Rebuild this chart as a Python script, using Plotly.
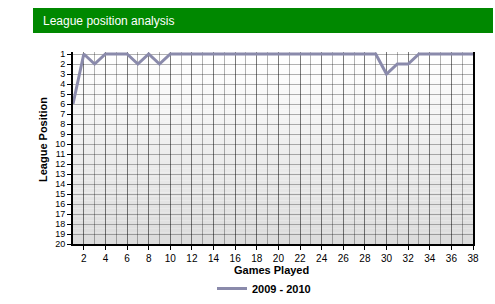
import plotly.graph_objects as go

games = list(range(1, 39))
positions = [6, 1, 2, 1, 1, 1, 2, 1, 2, 1,
             1, 1, 1, 1, 1, 1, 1, 1, 1, 1,
             1, 1, 1, 1, 1, 1, 1, 1, 1, 3,
             2, 2, 1, 1, 1, 1, 1, 1]
series_name = "2009 - 2010"
y_ticks = list(range(1, 21))
x_ticks = list(range(2, 39, 2))
x_title = "Games Played"
y_title = "League Position"
chart_title = "League position analysis"

W, H = 495, 304
ML, MR, MT, MB = 73, 22, 52, 60
FONT = "Arial, Liberation Sans, sans-serif"

fig = go.Figure()
fig.add_trace(go.Scatter(
    x=games, y=positions, mode="lines", name=series_name,
    line=dict(color="#8a8aab", width=3),
))

pw = W - ML - MR
ph = H - MT - MB
def px_x(p):
    return (p - ML) / pw
def px_y(p):
    return (H - MB - p) / ph

shapes = []
# background gradient in plot area (from the value-1 gridline down)
top = px_y(54)
n = 48
for i in range(n):
    t = i / (n - 1)
    v = int(round(255 - t * (255 - 220)))
    shapes.append(dict(type="rect", xref="paper", yref="paper",
                       x0=0, x1=1, y0=top * (1 - (i + 1) / n), y1=top * (1 - i / n),
                       fillcolor=f"rgb({v},{v},{v})", line=dict(width=0),
                       layer="below"))
# title bar
shapes.append(dict(type="rect", xref="paper", yref="paper",
                   x0=px_x(33), x1=px_x(493), y0=px_y(33), y1=px_y(8),
                   fillcolor="#008800", line=dict(width=0), layer="below"))

bold11 = dict(family=FONT, size=11, color="black", weight="bold")

fig.update_layout(
    width=W, height=H,
    margin=dict(l=ML, r=MR, t=MT, b=MB, pad=0, autoexpand=False),
    paper_bgcolor="white", plot_bgcolor="white",
    font=dict(family=FONT, size=10, color="black"),
    shapes=shapes,
    showlegend=True,
    legend=dict(orientation="h", xref="container", yref="container",
                x=212 / W, xanchor="left",
                y=(H - 274) / H, yanchor="top",
                font=bold11, bgcolor="rgba(0,0,0,0)"),
    annotations=[
        dict(text=chart_title, xref="paper", yref="paper",
             x=px_x(41), y=px_y(20.5), xanchor="left", yanchor="middle",
             showarrow=False, font=dict(family=FONT, size=12, color="white")),
        dict(text=x_title, xref="paper", yref="paper",
             x=px_x(271), y=px_y(270), xanchor="center", yanchor="middle",
             showarrow=False, font=bold11),
        dict(text=y_title, xref="paper", yref="paper", textangle=-90,
             x=px_x(43), y=px_y(140), xanchor="center", yanchor="middle",
             showarrow=False, font=bold11),
    ],
)

fig.update_xaxes(
    range=[1, 38], tickmode="array", tickvals=x_ticks,
    ticktext=[str(v) for v in x_ticks], automargin=False,
    ticks="outside", ticklen=4, tickcolor="black", tickwidth=1,
    showline=True, linecolor="black", linewidth=2,
    showgrid=True, gridcolor="rgba(0,0,0,0.3)", gridwidth=1,
    minor=dict(dtick=1, tick0=1, showgrid=True, gridcolor="rgba(0,0,0,0.3)", ticks=""),
    zeroline=False,
    tickfont=dict(family=FONT, size=10, color="black"),
)
fig.update_yaxes(
    range=[20, 0.8], tickmode="array", tickvals=y_ticks,
    ticktext=[str(v) for v in y_ticks], automargin=False,
    ticks="outside", ticklen=4, tickcolor="black", tickwidth=1,
    showline=True, linecolor="black", linewidth=2, mirror=True,
    showgrid=True, gridcolor="rgba(0,0,0,0.3)", gridwidth=1,
    zeroline=False,
    tickfont=dict(family=FONT, size=9, color="black"),
)

fig.write_html("out.html")
